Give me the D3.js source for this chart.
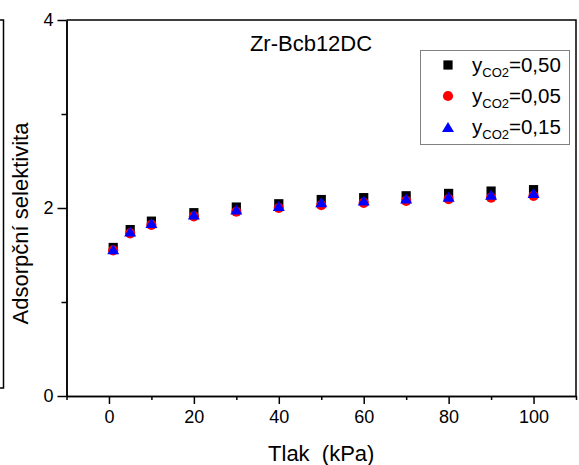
<!DOCTYPE html>
<html>
<head>
<meta charset="utf-8">
<script src="https://cdn.jsdelivr.net/npm/d3@7"></script>
<style>
  html, body { margin: 0; padding: 0; background: #fff; }
  svg { display: block; font-family: "Liberation Sans", Arial, sans-serif; }
</style>
</head>
<body>
<svg id="chart" width="579" height="465"></svg>
<script>
// Pressure points (kPa)
const pressure = [1, 5, 10, 20, 30, 40, 50, 60, 70, 80, 90, 100];
// Adsorption selectivity for each CO2 mole fraction
const sel050 = [1.58, 1.77, 1.86, 1.95, 2.01, 2.045, 2.09, 2.11, 2.13, 2.155, 2.18, 2.195];
const sel005 = [1.55, 1.73, 1.82, 1.91, 1.96, 2.00, 2.03, 2.055, 2.075, 2.095, 2.11, 2.13];
const sel015 = [1.56, 1.75, 1.84, 1.93, 1.985, 2.02, 2.06, 2.08, 2.10, 2.12, 2.14, 2.16];
const seriesLabels = ["0,50", "0,05", "0,15"];
const xMajorTicks = [0, 20, 40, 60, 80, 100];
const xMinorTicks = [-10, 10, 30, 50, 70, 90, 110];
const yMajorTicks = [0, 2, 4];
const yMinorTicks = [1, 3];

const svg = d3.select("#chart");
const L = 66.5, R = 576, T = 20, B = 396;

const x = d3.scaleLinear().domain([-10, 110]).range([L, R]);
const y = d3.scaleLinear().domain([0, 4]).range([B, T]);

// triangle symbol centred on its bounding box
const triangleBox = {
  draw(ctx, size) {
    const h = Math.sqrt(size), w = h * 1.2;
    ctx.moveTo(0, -h / 2);
    ctx.lineTo(w / 2, h / 2);
    ctx.lineTo(-w / 2, h / 2);
    ctx.closePath();
  }
};

const series = [
  { values: sel050, fill: "#000000", type: d3.symbolSquare, size: 85 },
  { values: sel005, fill: "#ff0000", type: d3.symbolCircle, size: 82 },
  { values: sel015, fill: "#0000ff", type: triangleBox, size: 100 }
];

// neighbouring panel edge on the far left
svg.append("path")
  .attr("d", "M0,20H3.5V388H0")
  .attr("fill", "none").attr("stroke", "#000").attr("stroke-width", 1.5);

// axes
const axisStyle = g => {
  g.selectAll("path.domain").attr("stroke", "#000").attr("stroke-width", 1.5);
  g.selectAll(".tick line").attr("stroke", "#000").attr("stroke-width", 1.5);
  g.selectAll(".tick text").attr("fill", "#000").style("font-size", "18px")
    .style("font-family", '"Liberation Sans", Arial, sans-serif');
};

svg.append("g").attr("transform", `translate(0,${B})`)
  .call(d3.axisBottom(x).tickValues(xMinorTicks).tickSize(4).tickFormat("").tickSizeOuter(0))
  .call(axisStyle);
svg.append("g").attr("transform", `translate(0,${B})`)
  .call(d3.axisBottom(x).tickValues(xMajorTicks).tickSize(8).tickPadding(6).tickFormat(d3.format("d")).tickSizeOuter(0))
  .call(axisStyle);

svg.append("g").attr("transform", `translate(${L},0)`)
  .call(d3.axisLeft(y).tickValues(yMinorTicks).tickSize(5).tickFormat("").tickSizeOuter(0))
  .call(axisStyle);
svg.append("g").attr("transform", `translate(${L},0)`)
  .call(d3.axisLeft(y).tickValues(yMajorTicks).tickSize(9).tickPadding(4).tickFormat(d3.format("d")).tickSizeOuter(0))
  .call(axisStyle);

// top and right frame
svg.append("path")
  .attr("d", `M${L},${T}H${R}V${B}`)
  .attr("fill", "none").attr("stroke", "#000").attr("stroke-width", 1.5);

// markers
series.forEach(s => {
  const sym = d3.symbol().type(s.type).size(s.size);
  svg.append("g").selectAll("path")
    .data(pressure.map((p, i) => [p, s.values[i]]))
    .join("path")
    .attr("transform", d => `translate(${x(d[0])},${y(d[1])})`)
    .attr("d", sym)
    .attr("fill", s.fill);
});

// title
svg.append("text")
  .attr("x", 311).attr("y", 50.5)
  .attr("text-anchor", "middle")
  .style("font-size", "22px")
  .text("Zr-Bcb12DC");

// axis titles
svg.append("text")
  .attr("x", (L + R) / 2).attr("y", 461)
  .attr("text-anchor", "middle")
  .style("font-size", "22px")
  .style("white-space", "pre")
  .attr("xml:space", "preserve")
  .text("Tlak  (kPa)");

svg.append("text")
  .attr("transform", "translate(28,223.5) rotate(-90)")
  .attr("text-anchor", "middle")
  .style("font-size", "22px")
  .text("Adsorpční selektivita");

// legend
const lg = svg.append("g");
lg.append("rect")
  .attr("x", 420.5).attr("y", 50.5).attr("width", 149).attr("height", 94)
  .attr("fill", "#fff").attr("stroke", "#808080").attr("stroke-width", 1);

series.forEach((s, i) => {
  const cy = 65 + i * 31;
  lg.append("path")
    .attr("transform", `translate(448,${cy})`)
    .attr("d", d3.symbol().type(s.type).size(s.size))
    .attr("fill", s.fill);
  const t = lg.append("text").attr("x", 472).attr("y", cy + 7).style("font-size", "20.5px");
  t.append("tspan").text("y");
  t.append("tspan").attr("dy", 5).style("font-size", "13px").text("CO2");
  t.append("tspan").attr("dy", -5).text("=" + seriesLabels[i]);
});
</script>
</body>
</html>
